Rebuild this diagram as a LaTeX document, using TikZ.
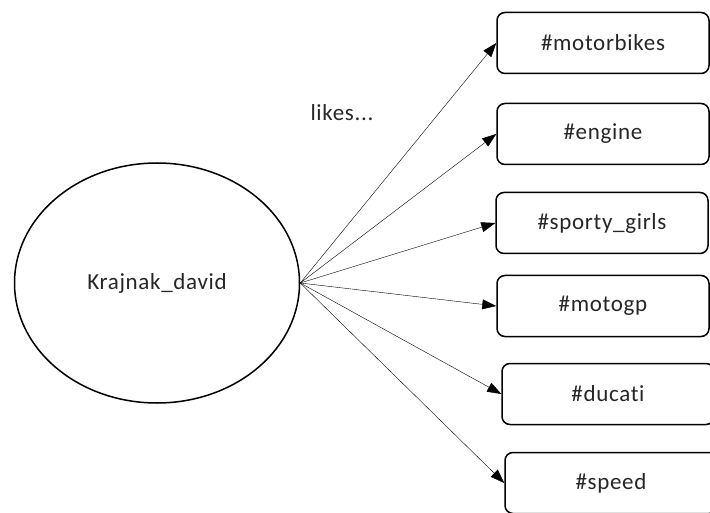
\documentclass[tikz,border=0pt]{standalone}
\usepackage{fontspec}
\setmainfont{Carlito}[Ligatures=NoCommon,LetterSpace=3]
\usetikzlibrary{arrows.meta,shapes.geometric}
\tikzset{>/.tip={Triangle[length=14pt,width=10pt]},
  tagbox/.style={draw, line width=1.5pt, rounded corners=8pt, minimum width=212pt, minimum height=61pt, font=\fontsize{23}{26}\selectfont, text=black!85},
  userblob/.style={draw, ellipse, line width=1.5pt, minimum width=285pt, minimum height=240pt, inner sep=0pt, font=\fontsize{23}{26}\selectfont, text=black!85}}

\begin{document}
\begin{tikzpicture}[x=1pt,y=-1pt]
\useasboundingbox (0,0) rectangle (710,513);
\node[userblob] (user) at (157,283) {Krajnak\_david};
\node[font=\fontsize{23}{26}\selectfont, text=black!85] (likes) at (342,113) {likes...};

\node[tagbox] (motorbikes) at (603,43)  {\#motorbikes};
\node[tagbox] (engine)     at (603,134) {\#engine};
\node[tagbox] (sporty)     at (602,223) {\#sporty\_girls};
\node[tagbox] (motogp)     at (603,306) {\#motogp};
\node[tagbox] (ducati)     at (608,394) {\#ducati};
\node[tagbox] (speed)      at (611,483) {\#speed};

\draw[->] (user.east) to (motorbikes.west);
\draw[->] (user.east) to (engine.west);
\draw[->] (user.east) to (sporty.west);
\draw[->] (user.east) to (motogp.west);
\draw[->] (user.east) to (ducati.west);
\draw[->] (user.east) to (speed.west);
\end{tikzpicture}
\end{document}
